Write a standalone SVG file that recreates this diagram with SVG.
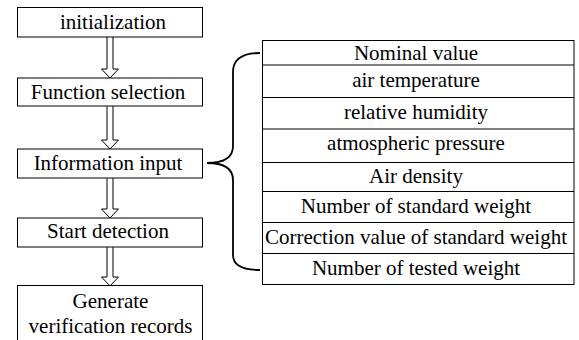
<svg xmlns="http://www.w3.org/2000/svg" width="579" height="340" viewBox="0 0 579 340">
<defs>
<path id="arrow" d="M-3,0 L-3,32 L-8.5,32 L0,41 L8.5,32 L3,32 L3,0" fill="#fff" stroke="#000" stroke-width="1"/>
</defs>
<rect width="579" height="340" fill="#fff"/>
<g id="connectors">
<use href="#arrow" transform="translate(110,37)"/>
<path d="M107,106 L107,140 L101.5,140 L110,149 L118.5,140 L113,140 L113,106" fill="#fff" stroke="#000" stroke-width="1"/>
<path d="M107,178 L107,209 L101.5,209 L110,218 L118.5,209 L113,209 L113,178" fill="#fff" stroke="#000" stroke-width="1"/>
<path d="M107,247 L107,277 L101.5,277 L110,286 L118.5,277 L113,277 L113,247" fill="#fff" stroke="#000" stroke-width="1"/>
<path d="M260,53 C243,53 233,58 233,72 L233,146 C233,157 224,163 207,163 C224,163 233,169 233,180 L233,255 C233,266 243,270 260,270" fill="none" stroke="#000" stroke-width="1.8"/>
</g>
<g id="initialization"><rect x="17.5" y="7.5" width="185" height="29.5" fill="#fff" stroke="#000"/><text font-family="Times New Roman, Liberation Serif, serif" font-size="21" text-anchor="middle" x="113" y="29">initialization</text></g>
<g id="function-selection"><rect x="17.5" y="78" width="185" height="28" fill="#fff" stroke="#000"/><text font-family="Times New Roman, Liberation Serif, serif" font-size="21" text-anchor="middle" x="108" y="99">Function selection</text></g>
<g id="information-input"><rect x="17.5" y="149" width="185" height="29" fill="#fff" stroke="#000"/><text font-family="Times New Roman, Liberation Serif, serif" font-size="21" text-anchor="middle" x="108" y="170">Information input</text></g>
<g id="start-detection"><rect x="17.5" y="218" width="185" height="29" fill="#fff" stroke="#000"/><text font-family="Times New Roman, Liberation Serif, serif" font-size="21" text-anchor="middle" x="108" y="238">Start detection</text></g>
<g id="generate"><rect x="17.5" y="285.5" width="185" height="70" fill="#fff" stroke="#000"/><text font-family="Times New Roman, Liberation Serif, serif" font-size="21" text-anchor="middle" x="110.5" y="308">Generate</text><text font-family="Times New Roman, Liberation Serif, serif" font-size="21" text-anchor="middle" x="110.5" y="333">verification records</text></g>
<g id="info-table">
<rect x="262.5" y="40.5" width="311.5" height="244" fill="#fff" stroke="#000"/>
<path d="M262.5,65H574M262.5,97.5H574M262.5,129H574M262.5,162.5H574M262.5,191.5H574M262.5,222.5H574M262.5,253.5H574" stroke="#000" stroke-width="1"/>
<text font-family="Times New Roman, Liberation Serif, serif" font-size="21" text-anchor="middle" x="416" y="60">Nominal value</text>
<text font-family="Times New Roman, Liberation Serif, serif" font-size="21" text-anchor="middle" x="416" y="87">air temperature</text>
<text font-family="Times New Roman, Liberation Serif, serif" font-size="21" text-anchor="middle" x="416" y="119">relative humidity</text>
<text font-family="Times New Roman, Liberation Serif, serif" font-size="21" text-anchor="middle" x="416" y="150">atmospheric pressure</text>
<text font-family="Times New Roman, Liberation Serif, serif" font-size="21" text-anchor="middle" x="416" y="183">Air density</text>
<text font-family="Times New Roman, Liberation Serif, serif" font-size="21" text-anchor="middle" x="416" y="213">Number of standard weight</text>
<text font-family="Times New Roman, Liberation Serif, serif" font-size="21" text-anchor="middle" x="416" y="244">Correction value of standard weight</text>
<text font-family="Times New Roman, Liberation Serif, serif" font-size="21" text-anchor="middle" x="416" y="275">Number of tested weight</text>
</g>
</svg>
